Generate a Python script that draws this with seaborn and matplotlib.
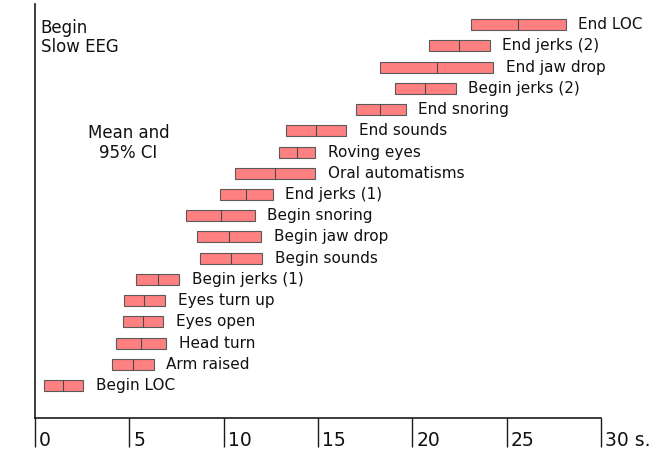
import numpy as np
import pandas as pd
import matplotlib
matplotlib.use("Agg")
import matplotlib.pyplot as plt
import matplotlib.transforms as mtransforms
import seaborn as sns

# events from top to bottom, with 95% CI (low, high) and mean in seconds
events = ["End LOC", "End jerks (2)", "End jaw drop", "Begin jerks (2)",
          "End snoring", "End sounds", "Roving eyes", "Oral automatisms",
          "End jerks (1)", "Begin snoring", "Begin jaw drop", "Begin sounds",
          "Begin jerks (1)", "Eyes turn up", "Eyes open", "Head turn",
          "Arm raised", "Begin LOC"]
ci_low = [23.1, 20.9, 18.3, 19.1, 17.0, 13.3, 12.95, 10.6, 9.8, 8.0, 8.6, 8.75,
          5.35, 4.7, 4.65, 4.3, 4.1, 0.5]
ci_high = [28.15, 24.1, 24.3, 22.3, 19.65, 16.5, 14.85, 14.85, 12.6, 11.65, 12.0, 12.05,
           7.65, 6.9, 6.8, 6.95, 6.3, 2.55]
means = [25.6, 22.5, 21.3, 20.7, 18.3, 14.9, 13.9, 12.7, 11.2, 9.85, 10.3, 10.4,
         6.5, 5.8, 5.7, 5.6, 5.2, 1.5]
tick_vals = [0, 5, 10, 15, 20, 25, 30]
tick_labels = ["0", "5", "10", "15", "20", "25", "30 s."]

df = pd.DataFrame({"event": events, "low": ci_low, "high": ci_high, "mean": means})
df["width"] = df["high"] - df["low"]

sns.set_style("white")
plt.rcParams["font.family"] = ["DejaVu Sans"]

fig = plt.figure(figsize=(6.61, 4.68), dpi=100)
ax = fig.add_axes([0.053, 0.107, 0.856, 0.884])

bar_h = 0.52
sns.barplot(data=df, x="width", y="event", order=events, left=df["low"].values,
            orient="h", width=bar_h, color="#ff8080", saturation=1,
            edgecolor="#5a5a5a", linewidth=0.8, ax=ax)

pos = np.arange(len(events))
ax.vlines(df["mean"], pos - bar_h / 2, pos + bar_h / 2, color="#4a4a4a", linewidth=0.8)

for p, hi, name in zip(pos, df["high"], events):
    ax.annotate(name, xy=(hi, p), xytext=(9, 0), textcoords="offset points",
                ha="left", va="center", fontsize=11, color="#111111",
                annotation_clip=False)

ax.set_xlim(0, 30)
ax.set_ylim(len(events) - 1 + 1.52, -0.96)
ax.set_yticks([])
ax.set_ylabel("")
ax.set_xlabel("")

for side in ["top", "right"]:
    ax.spines[side].set_visible(False)
for side in ["left", "bottom"]:
    ax.spines[side].set_linewidth(1.2)
    ax.spines[side].set_color("#1a1a1a")

ax.set_xticks(tick_vals, tick_labels)
ax.tick_params(axis="x", bottom=True, direction="out", length=21, width=1.0,
               color="#1a1a1a", pad=0, labelsize=13.5, labelcolor="#111111")
shift = mtransforms.ScaledTranslation(0.04, 0.16, fig.dpi_scale_trans)
for lab in ax.get_xticklabels():
    lab.set_horizontalalignment("left")
    lab.set_transform(lab.get_transform() + shift)

ax.text(0.01, 0.965, "Begin\nSlow EEG", transform=ax.transAxes, ha="left", va="top",
        fontsize=12, color="#111111", linespacing=1.1)
ax.text(0.165, 0.71, "Mean and\n95% CI", transform=ax.transAxes, ha="center", va="top",
        fontsize=12, color="#111111", linespacing=1.1)

fig.savefig("out.png", dpi=100)
